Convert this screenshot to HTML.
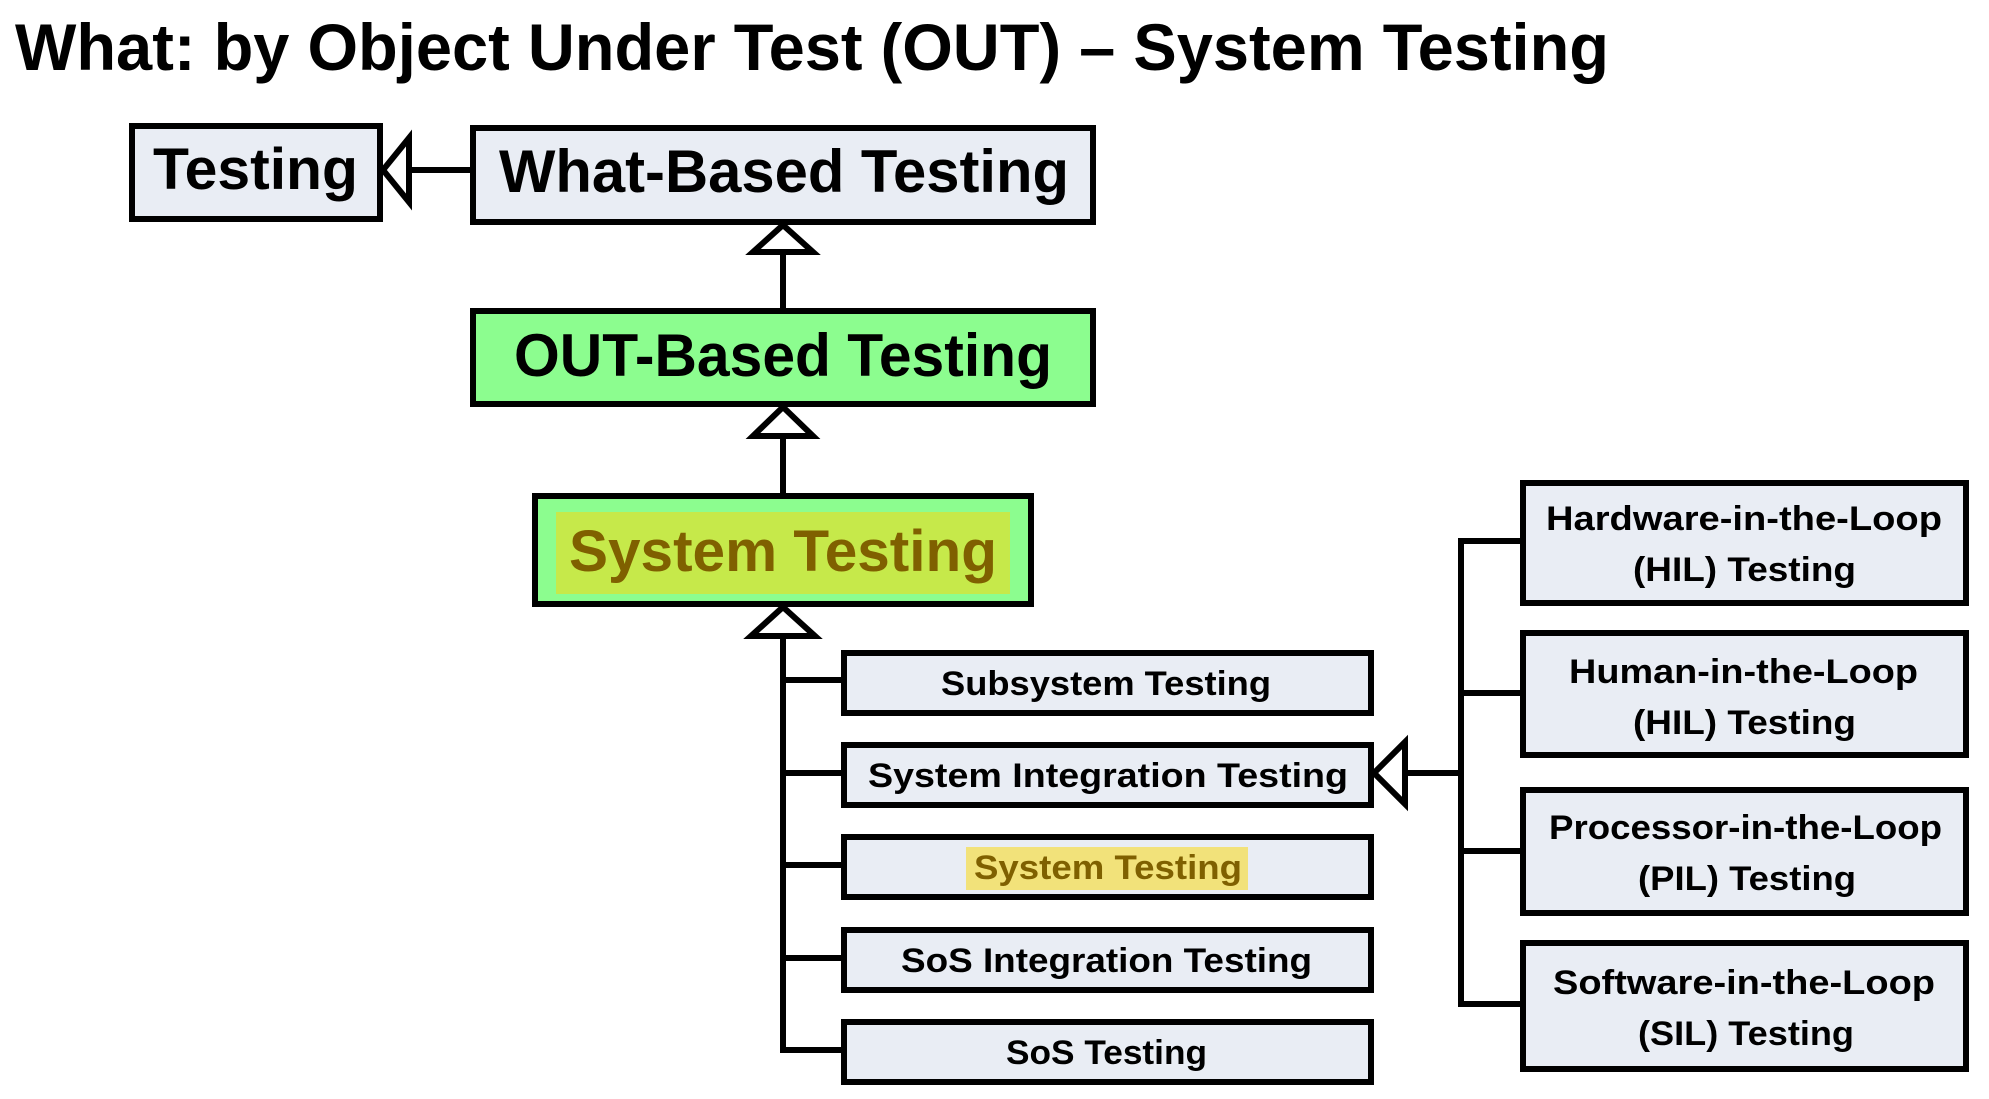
<!DOCTYPE html>
<html><head><meta charset="utf-8"><style>
html,body{margin:0;padding:0;background:#fff;width:1989px;height:1099px;overflow:hidden}
svg{display:block}
text{font-family:"Liberation Sans",sans-serif;font-weight:bold}
</style></head><body>
<svg width="1989" height="1099" viewBox="0 0 1989 1099" xmlns="http://www.w3.org/2000/svg">
<text x="15" y="70" font-size="66" textLength="1594" lengthAdjust="spacingAndGlyphs" fill="#000">What: by Object Under Test (OUT) – System Testing</text>
<g transform="translate(-5,-3)">
<g stroke="#000" stroke-width="6" fill="#e9edf4">
<rect x="137" y="129" width="248" height="93"/>
<rect x="478" y="131" width="620" height="94"/>
</g>
<rect x="478" y="314" width="620" height="93" fill="#8cfd8f" stroke="#000" stroke-width="6"/>
<rect x="540" y="499" width="496" height="108" fill="#8cfd8f" stroke="#000" stroke-width="6"/>
<rect x="561" y="515" width="454" height="82" fill="#c6e94a"/>

<g stroke="#000" stroke-width="6" fill="none">
<line x1="414" y1="173" x2="478" y2="173"/>
<line x1="788" y1="255" x2="788" y2="314"/>
<line x1="788" y1="439" x2="788" y2="499"/>
<line x1="788" y1="639" x2="788" y2="1056"/>
<line x1="785" y1="683" x2="848" y2="683"/>
<line x1="785" y1="776" x2="848" y2="776"/>
<line x1="785" y1="868" x2="848" y2="868"/>
<line x1="785" y1="961" x2="848" y2="961"/>
<line x1="785" y1="1053" x2="848" y2="1053"/>
<line x1="1410" y1="776" x2="1466" y2="776"/>
</g>
<g stroke="#000" stroke-width="6" fill="#fff">
<polygon points="388,173 414,141 414,205"/>
<polygon points="788,228 758,255 818,255"/>
<polygon points="788,410 758,439 818,439"/>
<polygon points="788,610 756,639 820,639"/>
<polygon points="1379,776 1410,745 1410,807"/>
</g>

<g stroke="#000" stroke-width="6" fill="#e9edf4">
<rect x="849" y="656" width="527" height="60"/>
<rect x="849" y="748" width="527" height="60"/>
<rect x="849" y="840" width="527" height="60"/>
<rect x="849" y="933" width="527" height="60"/>
<rect x="849" y="1025" width="527" height="60"/>
</g>
<rect x="971" y="850" width="282" height="43" fill="#f2e27a"/>

<g fill="#000">
<text x="158" y="192" font-size="58" textLength="205" lengthAdjust="spacingAndGlyphs">Testing</text>
<text x="504" y="195" font-size="60" textLength="570" lengthAdjust="spacingAndGlyphs">What-Based Testing</text>
<text x="519" y="379" font-size="60" textLength="538" lengthAdjust="spacingAndGlyphs">OUT-Based Testing</text>
<text x="574" y="574" font-size="58" textLength="428" lengthAdjust="spacingAndGlyphs" fill="#7f6000">System Testing</text>
<text x="946" y="698" font-size="34" textLength="330" lengthAdjust="spacingAndGlyphs">Subsystem Testing</text>
<text x="873" y="790" font-size="34" textLength="480" lengthAdjust="spacingAndGlyphs">System Integration Testing</text>
<text x="979" y="882" font-size="34" textLength="268" lengthAdjust="spacingAndGlyphs" fill="#7f6000">System Testing</text>
<text x="906" y="975" font-size="34" textLength="411" lengthAdjust="spacingAndGlyphs">SoS Integration Testing</text>
<text x="1011" y="1067" font-size="34" textLength="201" lengthAdjust="spacingAndGlyphs">SoS Testing</text>
</g>

<g transform="translate(-4,0)">
<g stroke="#000" stroke-width="6" fill="none">
<line x1="1470" y1="541" x2="1470" y2="1010"/>
<line x1="1467" y1="544" x2="1530" y2="544"/>
<line x1="1467" y1="696" x2="1530" y2="696"/>
<line x1="1467" y1="854" x2="1530" y2="854"/>
<line x1="1467" y1="1007" x2="1530" y2="1007"/>
</g>
<g stroke="#000" stroke-width="6" fill="#e9edf4">
<rect x="1532" y="486" width="443" height="120"/>
<rect x="1532" y="636" width="443" height="122"/>
<rect x="1532" y="793" width="443" height="123"/>
<rect x="1532" y="946" width="443" height="126"/>
</g>
<g fill="#000">
<text x="1555" y="533" font-size="34" textLength="396" lengthAdjust="spacingAndGlyphs">Hardware-in-the-Loop</text>
<text x="1642" y="584" font-size="34" textLength="223" lengthAdjust="spacingAndGlyphs">(HIL) Testing</text>
<text x="1578" y="686" font-size="34" textLength="349" lengthAdjust="spacingAndGlyphs">Human-in-the-Loop</text>
<text x="1642" y="737" font-size="34" textLength="223" lengthAdjust="spacingAndGlyphs">(HIL) Testing</text>
<text x="1558" y="842" font-size="34" textLength="393" lengthAdjust="spacingAndGlyphs">Processor-in-the-Loop</text>
<text x="1647" y="893" font-size="34" textLength="218" lengthAdjust="spacingAndGlyphs">(PIL) Testing</text>
<text x="1562" y="997" font-size="34" textLength="382" lengthAdjust="spacingAndGlyphs">Software-in-the-Loop</text>
<text x="1647" y="1048" font-size="34" textLength="216" lengthAdjust="spacingAndGlyphs">(SIL) Testing</text>
</g>
</g>
</g>
</svg>
</body></html>
